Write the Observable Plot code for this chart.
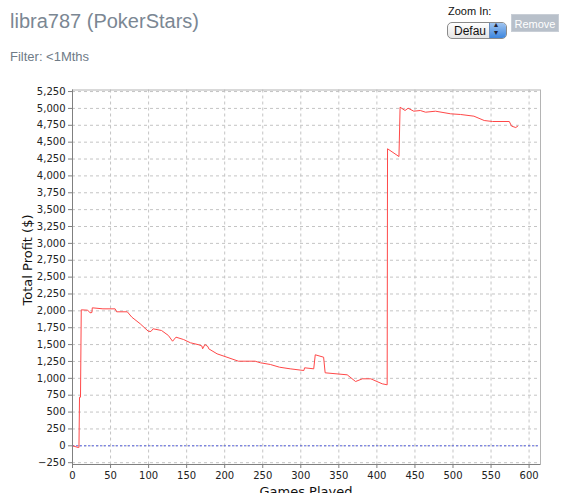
<!DOCTYPE html>
<html>
<head>
<meta charset="utf-8">
<script src="https://cdn.jsdelivr.net/npm/d3@7"></script>
<script src="https://cdn.jsdelivr.net/npm/@observablehq/plot@0.6"></script>
<style>
  html, body { margin: 0; padding: 0; background: #fff; width: 580px; height: 493px; overflow: hidden; }
  body { position: relative; font-family: "Liberation Sans", Arial, sans-serif; }
  #title { position: absolute; left: 10px; top: 10px; font-size: 20px; color: #7b8793; white-space: nowrap; }
  #filter { position: absolute; left: 10px; top: 49px; font-size: 13px; color: #6f7b87; white-space: nowrap; }
  #zoomlbl { position: absolute; left: 448px; top: 5px; font-size: 11px; color: #111; }
  #sel { position: absolute; left: 447px; top: 22px; width: 60px; height: 17px; border: 1px solid #8a8a8a; border-radius: 5px;
         background: linear-gradient(#ffffff, #e4e4e4); font-size: 12px; box-sizing: border-box; overflow: hidden; }
  #sel span { position: absolute; left: 6px; top: 1px; color: #111; }
  #sel i { position: absolute; right: 0; top: 0; width: 16px; height: 15px; background: linear-gradient(#9fc4f0, #3d86de); border-left: 1px solid #6a8fc0; }
  #sel i::before { content: "▴"; position: absolute; left: 4px; top: -3px; font-size: 8px; color: #223; font-style: normal; }
  #sel i::after { content: "▾"; position: absolute; left: 4px; top: 5px; font-size: 8px; color: #223; font-style: normal; }
  #btn { position: absolute; left: 511px; top: 14px; width: 48px; height: 18px; background: #b8c0ca; color: #fff; font-size: 11px;
         text-align: center; line-height: 18px; border: 1px solid #c8ced6; box-sizing: border-box; }
  #chart { position: absolute; left: 0; top: 70px; }
  #ylbl { position: absolute; left: 27px; top: 260px; transform: translate(-50%, -50%) rotate(-90deg); font-family: "DejaVu Sans", sans-serif; font-size: 13px; color: #111; white-space: nowrap; }
  #xlbl { position: absolute; left: 306px; top: 484px; transform: translateX(-50%); font-family: "DejaVu Sans", sans-serif; font-size: 13px; color: #111; white-space: nowrap; }
</style>
</head>
<body>
<div id="title">libra787 (PokerStars)</div>
<div id="filter">Filter: &lt;1Mths</div>
<div id="zoomlbl">Zoom In:</div>
<div id="sel"><span>Defau</span><i></i></div>
<div id="btn">Remove</div>
<div id="chart"></div>
<div id="ylbl">Total Profit ($)</div>
<div id="xlbl">Games Played</div>
<script>
const games = [0, 7.5, 8.5, 9.2, 10.5, 11.5, 20, 23, 25.5, 26, 40, 56, 58, 72, 78, 89, 99.5, 103, 106, 117, 126, 131.5, 136, 146, 155, 166, 170, 171, 174, 178, 179, 190, 203, 218, 240, 247, 260, 272, 286, 304, 305, 317, 319, 330, 332, 361, 372, 381, 392, 407, 413.5, 414, 429, 430.5, 437, 441, 448.5, 457, 464, 477, 497, 510, 527.5, 541, 552, 574, 577, 582.5, 585];
const profit = [0, -25, -25, 720, 720, 2015, 2010, 1971, 1975, 2045, 2030, 2030, 1986, 1986, 1906, 1808, 1699, 1694, 1734, 1709, 1635, 1550, 1610, 1575, 1527, 1497, 1480, 1438, 1501, 1470, 1438, 1363, 1313, 1254, 1254, 1230, 1205, 1165, 1141, 1116, 1156, 1141, 1349, 1313, 1082, 1052, 953, 993, 993, 919, 904, 4402, 4287, 5018, 4969, 5003, 4959, 4969, 4944, 4959, 4920, 4910, 4885, 4821, 4806, 4806, 4737, 4717, 4737];
const xTicks = [0, 50, 100, 150, 200, 250, 300, 350, 400, 450, 500, 550, 600];
const yTicks = [-250, 0, 250, 500, 750, 1000, 1250, 1500, 1750, 2000, 2250, 2500, 2750, 3000, 3250, 3500, 3750, 4000, 4250, 4500, 4750, 5000, 5250];
const xDomain = [0, 615];
const yDomain = [-277, 5273];

const data = games.map((g, i) => ({games: g, profit: profit[i]}));

const chart = Plot.plot({
  width: 580,
  height: 423,
  marginLeft: 72,
  marginRight: 40,
  marginTop: 19.5,
  marginBottom: 29,
  x: {domain: xDomain},
  y: {domain: yDomain},
  style: {fontFamily: "'DejaVu Sans', sans-serif", fontSize: "10px", color: "#222", background: "#fff"},
  marks: [
    Plot.gridX(xTicks, {stroke: "#c4c4c4", strokeOpacity: 1, strokeDasharray: "3,3"}),
    Plot.gridY(yTicks, {stroke: "#c4c4c4", strokeOpacity: 1, strokeDasharray: "3,3"}),
    Plot.frame({stroke: "#b4b4b4"}),
    Plot.ruleY([0], {stroke: "#5560dd", strokeDasharray: "2,2"}),
    Plot.line(data, {x: "games", y: "profit", stroke: "#ff4848", strokeWidth: 1}),
    Plot.ruleX([xDomain[0]], {stroke: "#808080"}),
    Plot.ruleY([yDomain[0]], {stroke: "#808080"}),
    Plot.axisY(yTicks, {tickFormat: d3.format(","), tickSize: 4, tickPadding: 3, label: null, stroke: "#808080"}),
    Plot.axisX(xTicks, {tickSize: 4, tickPadding: 3, label: null, stroke: "#808080"})
  ]
});
document.getElementById("chart").appendChild(chart);
</script>
</body>
</html>
